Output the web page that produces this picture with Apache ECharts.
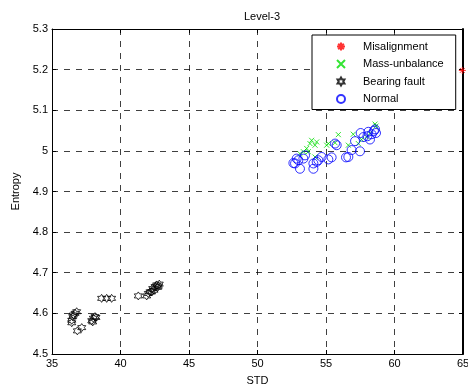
<!DOCTYPE html>
<html>
<head>
<meta charset="utf-8">
<script src="https://cdn.jsdelivr.net/npm/echarts@6/dist/echarts.min.js"></script>
<style>
html,body{margin:0;padding:0;background:#fff;}
#chart{width:468px;height:391px;}
</style>
</head>
<body>
<div id="chart"></div>
<script>
// STD / Entropy feature pairs per machine condition
const misalignment = [[64.95, 5.198]];
const massUnbalance = [
  [53.35, 4.998], [53.59, 5.006], [53.83, 5.018], [53.95, 5.026], [54.20, 5.014],
  [54.32, 5.022], [54.20, 4.985], [55.17, 5.018], [55.05, 5.014], [55.90, 5.040],
  [55.66, 5.020], [56.99, 5.041], [56.63, 5.014], [57.36, 5.018], [57.60, 5.028],
  [57.97, 5.034], [58.58, 5.066], [58.65, 5.061], [58.21, 5.043], [53.10, 4.993],
  [53.71, 4.998]
];
const bearingFault = [
  [36.44, 4.583], [36.51, 4.592], [36.56, 4.596], [36.68, 4.600], [36.44, 4.577],
  [36.80, 4.604], [36.85, 4.557], [37.17, 4.565], [37.90, 4.582], [38.02, 4.588],
  [38.14, 4.592], [38.21, 4.590], [37.97, 4.579], [38.62, 4.637], [38.99, 4.637],
  [39.35, 4.637], [41.30, 4.643], [41.91, 4.643], [42.03, 4.649], [42.15, 4.653],
  [42.35, 4.661], [42.52, 4.666], [42.64, 4.670], [42.76, 4.667], [42.83, 4.672],
  [42.71, 4.664], [42.44, 4.657], [42.27, 4.653]
];
const normal = [
  [52.74, 4.969], [52.98, 4.977], [52.86, 4.981], [53.10, 4.956], [52.62, 4.970],
  [53.35, 4.981], [53.47, 4.989], [54.08, 4.956], [54.08, 4.969], [54.32, 4.973],
  [54.44, 4.977], [54.68, 4.985], [55.17, 4.979], [55.41, 4.984], [55.66, 5.018],
  [55.78, 5.014], [56.46, 4.984], [56.63, 4.985], [56.87, 5.002], [57.12, 5.024],
  [57.48, 4.999], [57.53, 5.044], [57.73, 5.034], [58.02, 5.036], [58.09, 5.047],
  [58.21, 5.028], [58.33, 5.041], [58.50, 5.049], [58.58, 5.053], [58.65, 5.044]
];
const seriesNames = ['Misalignment', 'Mass-unbalance', 'Bearing fault', 'Normal'];
const xTicks = { min: 35, max: 65, interval: 5 };
const yTicks = { min: 4.5, max: 5.3, interval: 0.1 };

// marker outlines
const asteriskPath = 'path://M5,0L5,10M0,5L10,5M1.5,1.5L8.5,8.5M8.5,1.5L1.5,8.5';
const crossPath = 'path://M0,0L10,10M10,0L0,10';
function hexagramPath() {
  const pts = [];
  for (let i = 0; i < 12; i++) {
    const r = i % 2 === 0 ? 10 : 5.77;
    const a = -Math.PI / 2 + i * Math.PI / 6;
    pts.push((10 + r * Math.cos(a)).toFixed(2) + ',' + (10 + r * Math.sin(a)).toFixed(2));
  }
  return 'path://M' + pts.join('L') + 'Z';
}

const font = 'Liberation Sans, Arial, sans-serif';
const chart = echarts.init(document.getElementById('chart'), null, { renderer: 'canvas' });

const gridLine = { show: true, lineStyle: { color: '#000', type: [6, 6], width: 1, opacity: 0.75 } };
const axisCommon = {
  axisLine: { show: true, onZero: false, lineStyle: { color: '#000', width: 1 } },
  axisTick: { show: true, inside: true, length: 4, lineStyle: { color: '#000' } },
  axisLabel: { color: '#000', fontSize: 11, fontFamily: font },
  nameTextStyle: { color: '#000', fontSize: 11, fontFamily: font }
};

chart.setOption({
  animation: false,
  backgroundColor: '#fff',
  title: {
    text: 'Level-3', left: 257, top: 6, textAlign: 'center',
    textStyle: { fontSize: 11, fontWeight: 'normal', color: '#000', fontFamily: font }
  },
  grid: { left: 52, top: 29, right: 5, bottom: 37, containLabel: false, outerBoundsMode: 'none' },
  legend: {
    orient: 'vertical', left: 312, top: 35,
    backgroundColor: '#fff', borderColor: '#000', borderWidth: 1, borderRadius: 0,
    padding: [6, 12, 5, 24], itemGap: 6.5, itemWidth: 8, itemHeight: 8,
    textStyle: { fontSize: 11, color: '#000', fontFamily: font, padding: [0, 0, 0, 13] },
    data: seriesNames
  },
  xAxis: [
    Object.assign({}, axisCommon, {
      type: 'value', min: xTicks.min, max: xTicks.max, interval: xTicks.interval,
      name: 'STD', nameLocation: 'middle', nameGap: 21,
      splitLine: gridLine,
      axisLabel: Object.assign({}, axisCommon.axisLabel, { margin: 4 })
    }),
    Object.assign({}, axisCommon, {
      type: 'value', position: 'top', min: xTicks.min, max: xTicks.max, interval: xTicks.interval,
      axisLabel: { show: false }, splitLine: { show: false }
    })
  ],
  yAxis: [
    Object.assign({}, axisCommon, {
      type: 'value', min: yTicks.min, max: yTicks.max, interval: yTicks.interval,
      name: 'Entropy', nameLocation: 'middle', nameGap: 28, nameRotate: 90,
      splitLine: gridLine,
      axisLabel: Object.assign({}, axisCommon.axisLabel, { margin: 4,
        formatter: v => (Math.round(v * 10) / 10).toString() })
    }),
    Object.assign({}, axisCommon, {
      type: 'value', position: 'right', min: yTicks.min, max: yTicks.max, interval: yTicks.interval,
      axisLine: { show: true, onZero: false, lineStyle: { color: '#000', width: 2 } },
      axisLabel: { show: false }, splitLine: { show: false }
    })
  ],
  series: [
    {
      name: seriesNames[0], type: 'scatter', data: misalignment, symbol: asteriskPath, symbolSize: 7,
      itemStyle: { color: 'rgba(0,0,0,0)', borderColor: '#ff0000', borderWidth: 1 }
    },
    {
      name: seriesNames[1], type: 'scatter', data: massUnbalance, symbol: crossPath, symbolSize: 5,
      itemStyle: { color: 'rgba(0,0,0,0)', borderColor: '#00dd00', borderWidth: 1 }
    },
    {
      name: seriesNames[2], type: 'scatter', data: bearingFault, symbol: hexagramPath(), symbolSize: 8,
      itemStyle: { color: 'rgba(0,0,0,0)', borderColor: '#000', borderWidth: 1 }
    },
    {
      name: seriesNames[3], type: 'scatter', data: normal, symbol: 'circle', symbolSize: 9,
      itemStyle: { color: 'rgba(0,0,0,0)', borderColor: '#0000ff', borderWidth: 1 }
    }
  ]
});
</script>
</body>
</html>
